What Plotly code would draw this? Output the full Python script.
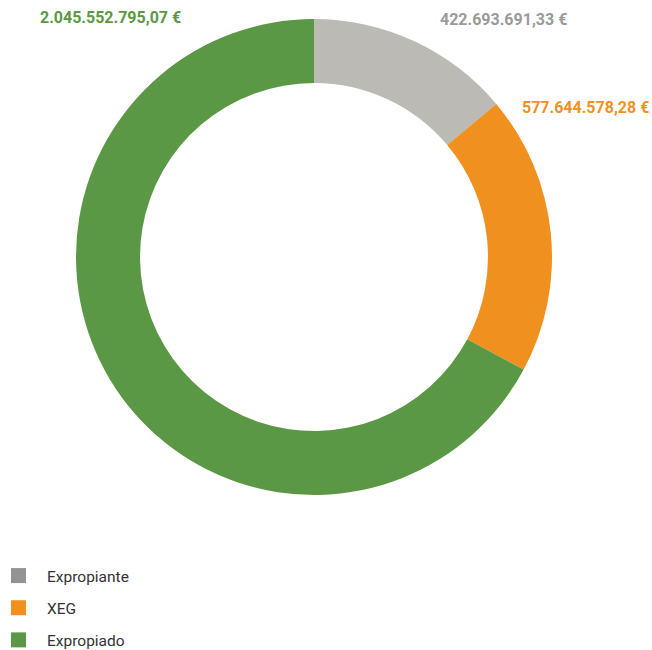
import plotly.graph_objects as go

# Amounts per party, in euros
categories = ["Expropiante", "XEG", "Expropiado"]
amounts = [422693691.33, 577644578.28, 2045552795.07]
slice_colors = ["#bbbab5", "#f0911f", "#5b9845"]
legend_colors = ["#939393", "#f0911f", "#5b9845"]
label_colors = ["#9a9a9a", "#f0911f", "#5b9845"]

W, H = 652, 650


def euro(v):
    s = f"{v:,.2f}"
    s = s.replace(",", "X").replace(".", ",").replace("X", ".")
    return s + " €"


def px(x, y):
    return x / W, 1 - y / H


fig = go.Figure()

fig.add_trace(go.Pie(
    labels=categories,
    values=amounts,
    marker=dict(colors=slice_colors, line=dict(width=0)),
    hole=0.731,
    sort=False,
    direction="clockwise",
    rotation=0,
    textinfo="none",
    hoverinfo="label+value",
    showlegend=False,
    domain=dict(x=[76 / W, 552 / W], y=[1 - 495 / H, 1 - 19 / H]),
))

# Legend entries with square swatches
for name, col in zip(categories, legend_colors):
    fig.add_trace(go.Scatter(
        x=[None], y=[None], mode="markers", name=name, legendgroup=name,
        marker=dict(symbol="square", size=15, color=col),
    ))

# Value labels placed around the ring
label_pos = [(503, 19), (585, 108), (111, 18)]
annotations = []
for v, col, (lx, ly) in zip(amounts, label_colors, label_pos):
    ax, ay = px(lx, ly)
    annotations.append(dict(
        x=ax, y=ay, xref="paper", yref="paper", showarrow=False,
        text=f"<b>{euro(v)}</b>", font=dict(family="Roboto", size=16, color=col),
        xanchor="center", yanchor="middle",
    ))

fig.update_layout(
    width=W, height=H,
    margin=dict(l=0, r=0, t=0, b=0, autoexpand=False),
    paper_bgcolor="white", plot_bgcolor="white",
    font=dict(family="Roboto", size=15.5, color="#333333"),
    xaxis=dict(visible=False), yaxis=dict(visible=False),
    annotations=annotations,
    legend=dict(
        x=-10 / W, y=1 - 559 / H, xanchor="left", yanchor="top",
        tracegroupgap=9, itemwidth=47,
        font=dict(family="Roboto", size=15.5, color="#333333"),
        bgcolor="rgba(0,0,0,0)",
    ),
    showlegend=True,
)

fig.write_html("out.html")
